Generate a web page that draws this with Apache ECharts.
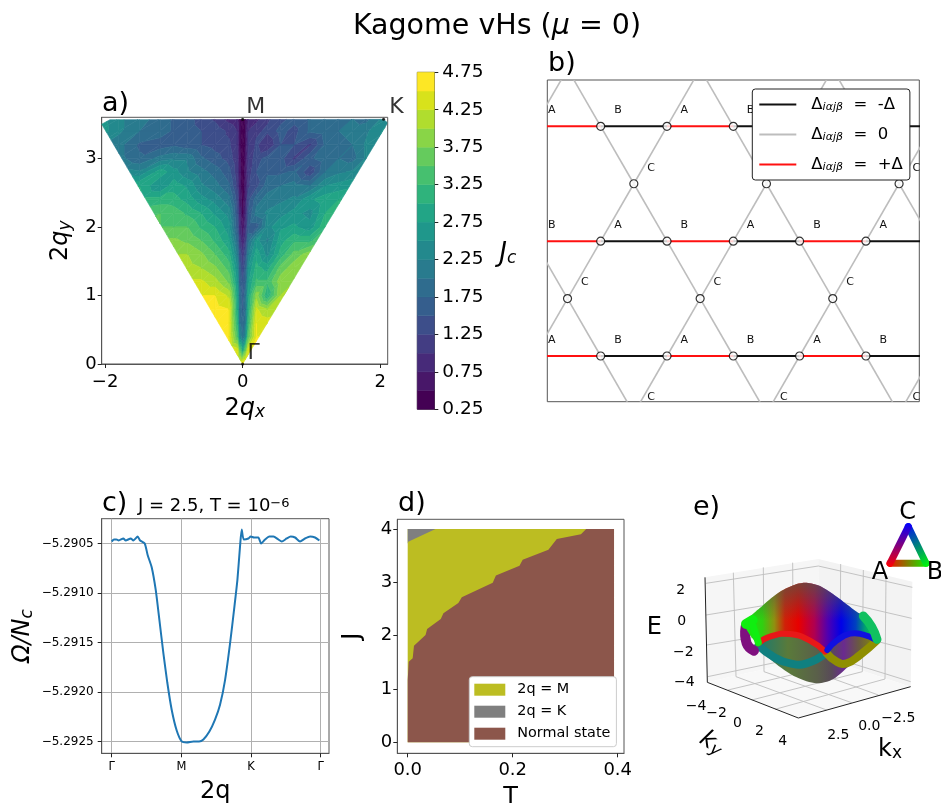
<!DOCTYPE html>
<html><head><meta charset="utf-8">
<script src="https://cdn.jsdelivr.net/npm/echarts@6/dist/echarts.min.js"></script>
<style>html,body{margin:0;padding:0;background:#fff}#c{width:941px;height:803px;filter:blur(0.45px)}</style>
</head><body><div id="c"></div>
<script>
const FONT = 'DejaVu Sans';
/* ---------- a) J_c map ---------- */
const jLevels = [0.25,0.5,0.75,1,1.25,1.5,1.75,2,2.25,2.5,2.75,3,3.25,3.5,3.75,4,4.25,4.5,4.75];
const jTicks = [0.25,0.75,1.25,1.75,2.25,2.75,3.25,3.75,4.25,4.75];
const qx = [-2.1,-1.8,-1.5,-1.2,-1,-.8,-.6,-.4,-.2,-.08,-.04,0,.04,.08,.2,.36,.55,.75,.98,1.2,1.4,1.6,1.8,2.1];
const qy = [0,.2,.4,.6,.8,1,1.2,1.4,1.6,1.8,2,2.2,2.4,2.6,2.8,3,3.2,3.4,3.58];
const jc = [
[4.6,4.6,4.6,4.6,4.6,4.6,4.6,4.6,4.6,4.6,4.6,4.6,4.6,4.6,4.6,4.6,4.6,4.6,4.6,4.6,4.6,4.6,4.6,4.6],
[4.6,4.6,4.6,4.6,4.6,4.6,4.6,4.6,4.6,4.4,3.6,3.0,3.6,4.4,4.6,4.6,4.6,4.6,4.6,4.6,4.6,4.6,4.6,4.6],
[4.6,4.6,4.6,4.6,4.6,4.6,4.6,4.6,4.5,3.5,2.3,2.0,2.3,3.5,4.5,4.5,4.5,4.5,4.5,4.5,4.5,4.5,4.5,4.5],
[4.6,4.6,4.6,4.6,4.6,4.6,4.6,4.6,4.5,3.2,2.0,1.8,2.0,3.2,4.5,4.4,4.3,4.3,4.3,4.3,4.3,4.3,4.3,4.3],
[4.6,4.6,4.6,4.6,4.6,4.6,4.6,4.6,4.5,3.0,1.9,1.7,1.9,3.0,4.3,4.0,4.1,4.1,4.1,4.1,4.1,4.1,4.1,4.1],
[4.5,4.5,4.5,4.5,4.5,4.5,4.5,4.5,4.2,2.9,1.9,1.6,1.9,2.9,3.9,3.0,4.0,4.0,4.0,4.0,4.0,4.0,4.0,4.0],
[4.3,4.3,4.3,4.3,4.3,4.3,4.3,4.1,3.7,2.7,1.7,1.5,1.7,2.7,3.3,3.3,3.9,4.0,4.0,4.0,4.0,4.0,4.0,4.0],
[4.1,4.1,4.1,4.1,4.1,4.1,4.0,3.8,3.4,2.5,1.6,1.3,1.6,2.5,3.1,2.9,3.6,3.9,3.9,3.9,3.9,3.9,3.9,3.9],
[4.0,4.0,4.0,4.0,4.0,4.0,3.8,3.5,3.1,2.2,1.4,1.1,1.4,2.2,2.9,2.4,3.1,3.6,3.9,3.9,3.9,3.9,3.9,3.9],
[3.8,3.8,3.8,3.8,3.8,3.7,3.5,3.2,2.8,1.9,1.1,.8,1.1,1.9,2.6,2.2,2.9,3.2,3.2,3.5,3.5,3.5,3.5,3.5],
[3.5,3.5,3.5,3.5,3.5,3.5,3.2,3.0,2.6,1.6,.9,.6,.9,1.6,1.6,2.4,2.7,2.8,2.6,3.2,3.2,3.2,3.2,3.2],
[3.4,3.4,3.4,3.5,3.4,3.2,3.0,2.7,2.4,1.5,.8,.45,.8,1.5,2.1,2.3,2.4,2.6,2.4,3.0,3.1,3.1,3.1,3.1],
[3.1,3.1,3.1,3.1,3.1,2.9,2.6,2.4,2.1,1.4,.7,.35,.7,1.4,1.9,2.1,2.2,2.3,2.7,2.9,3.0,3.0,3.0,3.0],
[3.0,3.0,3.0,2.5,2.9,2.7,2.3,2.1,1.8,1.2,.6,.3,.6,1.2,1.4,1.9,2.0,2.1,2.0,2.5,2.6,2.7,2.7,2.7],
[2.4,2.4,2.3,2.9,2.6,2.3,2.1,1.9,1.6,1.1,.6,.3,.6,1.1,1.5,1.7,1.7,1.8,1.3,2.0,2.2,2.3,2.5,2.5],
[2.1,2.1,1.8,2.1,2.2,2.2,1.8,1.6,1.4,1.05,.55,.27,.55,1.05,1.4,1.6,1.6,1.2,1.7,1.9,2.0,1.9,2.3,2.4],
[2.3,2.1,1.7,1.6,1.7,1.6,1.5,1.4,1.3,1.0,.5,.27,.5,1.0,1.3,1.0,1.5,1.5,1.2,1.8,1.9,2.0,2.3,2.5],
[2.7,2.3,2.0,1.9,1.7,1.6,1.5,1.4,1.2,1.0,.5,.27,.5,1.0,1.2,1.3,1.6,1.4,1.8,1.9,2.0,2.1,2.2,2.6],
[2.6,2.3,2.1,1.9,1.7,1.6,1.4,1.2,.9,.8,.5,.27,.5,.8,.9,1.2,1.4,1.6,1.8,1.9,1.9,2.0,1.9,2.4]
];
const wedge = [[0,0],[2.11,3.52],[2.05,3.57],[-1.93,3.565],[-2.05,3.5]];
const bzPoints = [[0,3.57,'M'],[2.05,3.57,'K'],[0,0,'Γ']];
/* ---------- b) lattice ---------- */
const abRows = [0,1.732,3.464];
const abColumns = [-1,0,1,2,3,4,5];
const cSites = [[.5,-.866],[2.5,-.866],[4.5,-.866],[-.5,.866],[1.5,.866],[3.5,.866],[5.5,.866],[.5,2.598],[2.5,2.598],[4.5,2.598],[-.5,4.33],[1.5,4.33],[3.5,4.33],[5.5,4.33]];
const rowLetters = [['A','B'],['B','A'],['A','B']];
const bondNames = ['Δiαjβ = -Δ','Δiαjβ = 0','Δiαjβ = +Δ'];
const bondColors = ['#111111','#bdbdbd','#ff1010'];
/* ---------- c) free energy ---------- */
const pathTicks = [0,1,2,3];
const pathLabels = ['Γ','M','K','Γ'];
const omegaTicks = [-5.2925,-5.292,-5.2915,-5.291,-5.2905];
const q2 = [0,.033,.067,.1,.167,.201,.273,.311,.373,.407,.474,.517,.574,.632,.684,.742,.799,.861,.933,1.005,1.077,1.172,1.254,1.316,1.402,1.483,1.555,1.627,1.699,1.761,1.804,1.842,1.866,1.895,1.962,1.995,2.043,2.105,2.144,2.201,2.263,2.321,2.392,2.44,2.512,2.569,2.632,2.703,2.775,2.847,2.919,2.981];
const omega = [-5.29048,-5.29046,-5.29046,-5.29047,-5.29045,-5.29047,-5.29045,-5.29047,-5.29043,-5.29047,-5.2905,-5.29062,-5.29074,-5.29097,-5.29127,-5.29161,-5.29191,-5.29218,-5.29239,-5.2925,-5.29251,-5.2925,-5.2925,-5.29248,-5.2924,-5.29228,-5.29213,-5.29188,-5.29151,-5.29114,-5.29087,-5.29053,-5.29036,-5.29046,-5.29045,-5.29043,-5.29044,-5.29044,-5.2905,-5.29046,-5.29043,-5.29043,-5.29046,-5.29048,-5.29045,-5.29043,-5.29044,-5.29048,-5.29045,-5.29043,-5.29044,-5.29047];
/* ---------- d) phase diagram ---------- */
const phaseNames = ['2q = M','2q = K','Normal state'];
const phaseColors = ['#bcbd22','#7f7f7f','#8c564b'];
const normalT = [0,0,.002,.0095,.012,.034,.037,.063,.068,.0965,.103,.162,.168,.213,.219,.268,.284,.33,.34,.393,.393];
const normalJ = [0,1.169,1.51,1.575,1.81,2.01,2.125,2.31,2.42,2.61,2.72,2.99,3.125,3.31,3.42,3.61,3.81,3.9,4,4,0];
const chargeT = [0,.393,.393,0];
const chargeJ = [0,0,4,4];
const kPhaseT = [0,.053,.001,0];
const kPhaseJ = [4,4,3.76,3.72];
/* ---------- e) band structure, in the scene plane of the 3D view ---------- */
const paneLeft = [[232,607],[225,292],[565,237],[568,530]];
const paneRight = [[568,530],[565,237],[847,305],[842,620]];
const paneFloor = [[232,607],[568,530],[842,620],[505,714]];
const sceneGrid = [
 [[310,278],[318,590]],[[400,262],[402,575]],[[488,248],[490,553]],
 [[632,252],[630,550]],[[700,270],[697,575]],[[768,287],[765,597]],
 [[228,310],[565,258]],[[228,405],[565,350]],[[230,495],[567,440]],[[233,590],[568,520]],
 [[565,258],[847,322]],[[565,350],[845,415]],[[567,440],[843,510]],[[568,520],[842,605]],
 [[318,590],[590,690]],[[402,575],[665,668]],[[490,553],[745,645]],
 [[630,550],[294,630]],[[697,575],[365,660]],[[765,597],[435,688]]
];
const sceneEdges = [[[225,292],[232,607]],[[232,607],[505,714]],[[505,714],[842,620]]];
const bowlOutline = [[385,495],[430,545],[500,592],[560,610],[610,597],[660,555],[740,490],[700,465],[640,465],[590,515],[540,480],[480,463],[420,472]];
const bowlStops = [[0,'#1a7a70'],[.25,'#5a7a3a'],[.5,'#5a5f4a'],[.62,'#584a58'],[.72,'#6a2a90'],[.85,'#6a5a40'],[1,'#8a9000']];
const domeOutline = [[345,432],[400,375],[450,335],[500,312],[530,308],[570,318],[620,350],[680,395],[720,420],[745,480],[700,462],[640,465],[590,515],[540,482],[480,463],[420,472],[385,492]];
const domeStops = [[0,'#10f010'],[.13,'#30d010'],[.22,'#909010'],[.3,'#d02008'],[.4,'#e80000'],[.52,'#b00050'],[.62,'#5000b0'],[.72,'#0000e8'],[.83,'#0040c0'],[.9,'#00a070'],[1,'#10e030']];
const ribbons = [
 {pts:[[385,497],[430,530],[480,550],[530,550],[590,518]],color:'#108080',w:8},
 {pts:[[590,520],[620,545],[650,550],[690,525],[740,482]],color:'#8f8f00',w:8},
 {pts:[[347,440],[350,490],[372,512]],color:'#7f107f',w:10},
 {pts:[[385,490],[420,470],[480,462],[540,482],[585,515]],color:'#e81818',w:6},
 {pts:[[592,510],[620,482],[660,461],[700,464],[738,480]],color:'#1010e0',w:6},
 {pts:[[348,432],[368,420]],color:'#10ee10',w:10},
 {pts:[[366,428],[385,488]],color:'#10ee10',w:7},
 {pts:[[700,408],[725,440],[741,478]],color:'#10c060',w:9}
];
const insetA = [780,250], insetB = [888,250], insetC = [835,140];
const sceneLabels = [
 {t:'2',x:152,y:332,s:14},{t:'0',x:155,y:425,s:14},{t:'−2',x:160,y:518,s:14},{t:'−4',x:163,y:607,s:14},
 {t:'−4',x:198,y:678,s:14},{t:'−2',x:260,y:700,s:14},{t:'0',x:322,y:730,s:14},{t:'2',x:388,y:755,s:14},{t:'4',x:458,y:785,s:14},
 {t:'2.5',x:625,y:765,s:14},{t:'0.0',x:718,y:740,s:14},{t:'−2.5',x:805,y:715,s:14},
 {t:'E',x:73,y:443,s:24},{t:'C',x:833,y:98,s:24},{t:'A',x:750,y:278,s:24},{t:'B',x:915,y:278,s:24}
];

/* ---------- helpers ---------- */
const viridisStops = ['#440154','#481567','#482677','#453781','#404788','#39568C','#33638D','#2D708E','#287D8E','#238A8D','#1F968B','#20A387','#29AF7F','#3CBB75','#55C667','#73D055','#95D840','#B8DE29','#DCE319','#FDE725'];
function hex(c){return [1,3,5].map(i=>parseInt(c.substr(i,2),16));}
function viridis(t){const f=t*19,i=Math.min(18,Math.floor(f)),a=hex(viridisStops[i]),b=hex(viridisStops[i+1]),u=f-i;
 return 'rgb('+a.map((v,k)=>Math.round(v+(b[k]-v)*u)).join(',')+')';}
const bandColors = jLevels.slice(0,-1).map((_,k)=>viridis(k/(jLevels.length-2)));
function clip(poly,f){const out=[];for(let i=0;i<poly.length;i++){const p=poly[i],q=poly[(i+1)%poly.length],a=f(p),b=f(q);
 if(a>=0)out.push(p);
 if((a>=0)!==(b>=0)){const u=a/(a-b);out.push([p[0]+(q[0]-p[0])*u,p[1]+(q[1]-p[1])*u,p[2]+(q[2]-p[2])*u]);}}
 return out;}
const wedgeFns = wedge.map((p,i)=>{const q=wedge[(i+1)%wedge.length];
 const s=Math.sign((q[0]-p[0])*(2-p[1])-(q[1]-p[1])*(0-p[0]));
 return v=>s*((q[0]-p[0])*(v[1]-p[1])-(q[1]-p[1])*(v[0]-p[0]));});
const contourPolys=[];
for(let r=0;r<qy.length-1;r++)for(let c=0;c<qx.length-1;c++){
 const A=[qx[c],qy[r],jc[r][c]],B=[qx[c+1],qy[r],jc[r][c+1]],C=[qx[c+1],qy[r+1],jc[r+1][c+1]],D=[qx[c],qy[r+1],jc[r+1][c]];
 [[A,B,C],[A,C,D]].forEach(tri=>{
  let w=tri;for(const f of wedgeFns){w=clip(w,f);if(!w.length)return;}
  for(let k=0;k<jLevels.length-1;k++){
   let b=clip(w,v=>v[2]-jLevels[k]);if(b.length>2)b=clip(b,v=>jLevels[k+1]-v[2]);
   if(b.length>2)contourPolys.push({k,pts:b.map(v=>[v[0],v[1]])});
  }});
}
function LG(stops,x2,y2){return new echarts.graphic.LinearGradient(0,0,x2,y2,stops.map(s=>({offset:s[0],color:s[1]})));}
function polygonItem(api,pts,style,smooth){return {type:'polygon',shape:{points:pts.map(p=>api.coord(p)),smooth:smooth||0},style};}
function lineItem(api,pts,style,smooth){return {type:'polyline',shape:{points:pts.map(p=>api.coord(p)),smooth:smooth||0},style:Object.assign({fill:null},style)};}

/* ---------- layout ---------- */
const boxA={left:101.7,top:117.3,width:286,height:246.7}, boxBar={left:417.3,top:72.3,width:17,height:337},
      boxB={left:547.3,top:80,width:372,height:321.7}, boxC={left:101.7,top:518.7,width:227.3,height:234.6},
      boxD={left:397.3,top:519.3,width:226.7,height:234}, boxE={left:630,top:480,width:311,height:320};
const spine='#555';
const gridOf=b=>Object.assign({show:true,borderColor:spine,borderWidth:1,backgroundColor:'#fff',containLabel:false,outerBoundsMode:'none'},b);
function axis(o){return Object.assign({type:'value',scale:true,
 axisLine:{show:true,onZero:false,lineStyle:{color:spine,width:1}},
 axisTick:{show:true,length:4,lineStyle:{color:'#222',width:1},customValues:o.ticks},
 axisLabel:{color:'#000',fontSize:o.fs||18,margin:o.margin||5,customValues:o.ticks,formatter:o.fmt,hideOverlap:false,showMinLabel:true,showMaxLabel:true,padding:o.pad||0},
 splitLine:{show:false}},o.extra||{},{gridIndex:o.g,min:o.min,max:o.max,position:o.position});}
const minus=s=>String(s).replace('-','−');
const math={n:{fontFamily:FONT,fontSize:24,color:'#000'},i:{fontFamily:FONT,fontSize:24,fontStyle:'italic',color:'#000'},s:{fontFamily:FONT,fontSize:17,fontStyle:'italic',color:'#000',verticalAlign:'bottom',padding:[8,0,0,0]}};
const plain=s=>({fontSize:s,fontWeight:'normal',color:'#000',fontFamily:FONT});

const panelTitles=[
 {text:'{a|Kagome vHs (}{b|μ}{a| = 0)}',left:497,top:12,padding:0,textAlign:'center',textStyle:{rich:{a:plain(28.5),b:Object.assign(plain(28.5),{fontStyle:'italic'})}}},
 {text:'a)',left:102,top:90,padding:0,textStyle:plain(27)},
 {text:'b)',left:548,top:50,padding:0,textStyle:plain(27)},
 {text:'c)',left:102,top:490,padding:0,textStyle:plain(27)},
 {text:'{a|J = 2.5, T = 10}{b|−6}',left:138,top:497,padding:0,textStyle:{rich:{a:plain(18),b:Object.assign(plain(13),{verticalAlign:'top'})}}},
 {text:'d)',left:398,top:490,padding:0,textStyle:plain(27)},
 {text:'e)',left:693,top:494,padding:0,textStyle:plain(27)}
];

const option={
 animation:false,
 textStyle:{fontFamily:FONT},
 title:panelTitles,
 legend:[
  {data:bondNames,left:752.3,top:89,icon:'rect',itemWidth:37,itemHeight:2,itemGap:13,orient:'vertical',selectedMode:false,
   padding:[7,7,7,7],backgroundColor:'#fff',borderColor:'#222',borderWidth:1,borderRadius:3,z:20,
   formatter:n=>'{g|}{d|Δ}{s|iαjβ}{d|  =  '+n.split('= ')[1]+'}',
   textStyle:{rich:{g:{width:10},d:{fontSize:16.5,color:'#000',fontFamily:FONT,height:22},s:{fontSize:11,fontStyle:'italic',color:'#000',fontFamily:FONT,verticalAlign:'bottom',height:16}}}},
  {data:phaseNames,left:469.3,top:676.7,icon:'rect',itemWidth:31,itemHeight:12,itemGap:8,orient:'vertical',selectedMode:false,
   padding:[6,6,6,5],backgroundColor:'#fff',borderColor:'#ccc',borderWidth:1,borderRadius:3,z:20,
   formatter:n=>'{g|}{t|'+n+'}',
   textStyle:{rich:{g:{width:7},t:{fontSize:14.4,color:'#000',fontFamily:FONT,height:16}}}}
 ],
 grid:[gridOf(boxA),gridOf(boxBar),gridOf(boxB),gridOf(boxC),gridOf(boxD),Object.assign({show:false,outerBoundsMode:'none'},boxE)],
 xAxis:[
  axis({g:0,min:-2.05,max:2.11,ticks:[-2,0,2],fmt:minus,margin:9,extra:{name:'{n|2}{i|q}{s|x}',nameLocation:'middle',nameGap:32,nameTextStyle:{rich:math}}}),
  {type:'value',gridIndex:1,min:0,max:1,show:false},
  {type:'value',gridIndex:2,min:-.805,max:4.805,show:false},
  axis({g:3,min:-.1435,max:3.119,ticks:pathTicks,fs:11.5,margin:8,fmt:v=>pathLabels[Math.round(v)],extra:{splitLine:{show:true,lineStyle:{color:'#b0b0b0',width:1}},name:'2q',nameLocation:'middle',nameGap:26,nameTextStyle:{fontSize:24,color:'#000'}}}),
  axis({g:4,min:-.0198,max:.412,ticks:[0,.2,.4],fmt:v=>v.toFixed(1),margin:8,extra:{name:'T',nameLocation:'middle',nameGap:32,nameTextStyle:{fontSize:24,color:'#000'}}}),
  {type:'value',gridIndex:5,min:0,max:933,show:false}
 ],
 yAxis:[
  axis({g:0,min:0,max:3.6,ticks:[0,1,2,3],pad:[3,0,0,0],fmt:v=>String(v),extra:{name:'{n|2}{i|q}{s|y}',nameLocation:'middle',nameGap:28,nameRotate:90,nameTextStyle:{rich:math}}}),
  axis({g:1,min:.25,max:4.75,ticks:jTicks,pad:[3,0,0,0],position:'right',fmt:v=>v.toFixed(2),fs:18.5,margin:8,extra:{name:'{j|J}{s|c}',nameLocation:'middle',nameGap:65,nameRotate:0,nameTextStyle:{padding:[26,0,0,0],rich:Object.assign({j:{fontFamily:FONT,fontSize:26,fontStyle:'italic',color:'#000'}},math)}}}),
  {type:'value',gridIndex:2,min:-.689,max:4.163,show:false},
  axis({g:3,min:-5.29262,max:-5.29025,ticks:omegaTicks,pad:[2,0,0,0],fs:12,margin:8,fmt:v=>minus(v.toFixed(4)),extra:{splitLine:{show:true,lineStyle:{color:'#b0b0b0',width:1}},name:'{i|Ω/N}{s|c}',nameLocation:'middle',nameGap:66,nameRotate:90,nameTextStyle:{rich:math}}}),
  axis({g:4,min:-.206,max:4.18,ticks:[0,1,2,3,4],pad:[3,0,0,0],fmt:v=>String(v),extra:{name:'J',nameLocation:'middle',nameGap:33,nameRotate:90,nameTextStyle:{fontSize:24,color:'#000'}}}),
  {type:'value',gridIndex:5,min:0,max:960,inverse:true,show:false}
 ],
 series:[]
};
const S=option.series;
/* a) */
S.push({type:'custom',name:'Jc',xAxisIndex:0,yAxisIndex:0,coordinateSystem:'cartesian2d',silent:true,progressive:0,
 data:contourPolys.map(p=>[p.pts[0][0],p.pts[0][1],p.k]),
 renderItem:(params,api)=>{const p=contourPolys[params.dataIndex],col=bandColors[p.k];
  return polygonItem(api,p.pts,{fill:col,stroke:col,lineWidth:.6});}});
S.push({type:'scatter',name:'BZ points',xAxisIndex:0,yAxisIndex:0,symbolSize:3,itemStyle:{color:'#000'},clip:false,silent:true,
 data:bzPoints.map(p=>({value:[p[0],p[1]],label:{show:true,formatter:p[2],position:'inside',fontSize:22,color:'#000',
   offset:p[2]==='Γ'?[11,-11]:p[2]==='M'?[13,-12]:[13,-12]}}))});
/* colorbar */
S.push({type:'custom',name:'Jc scale',xAxisIndex:1,yAxisIndex:1,silent:true,
 data:jLevels.slice(0,-1).map((v,k)=>[k,v]),
 renderItem:(params,api)=>{const k=params.dataIndex,col=bandColors[k],a=api.coord([0,jLevels[k]]),b=api.coord([1,jLevels[k+1]]);
  return {type:'rect',shape:{x:a[0],y:b[1],width:b[0]-a[0],height:a[1]-b[1]},style:{fill:col,stroke:col,lineWidth:.5}};}});
/* b) */
const bonds=[[],[],[]];
abRows.forEach(y=>{for(let i=0;i<abColumns.length-1;i++){const x=abColumns[i];bonds[((x%2)+2)%2===0?0:2].push([x,y,x+1,y]);}});
cSites.forEach(s=>{[[-.5,-.866],[.5,-.866],[-.5,.866],[.5,.866]].forEach(d=>bonds[1].push([s[0],s[1],s[0]+d[0],s[1]+d[1]]));});
[1,0,2].forEach(t=>{S.push({type:'custom',name:bondNames[t],xAxisIndex:2,yAxisIndex:2,clip:true,silent:true,itemStyle:{color:bondColors[t]},z:2,
 data:bonds[t],
 renderItem:(params,api)=>{const a=api.coord([api.value(0),api.value(1)]),b=api.coord([api.value(2),api.value(3)]);
  return {type:'line',shape:{x1:a[0],y1:a[1],x2:b[0],y2:b[1]},style:{stroke:bondColors[t],lineWidth:t===1?1.6:2}};}});});
const abSites=[];abRows.forEach((y,r)=>abColumns.forEach(x=>abSites.push([x,y,rowLetters[r][((x%2)+2)%2===0?1:0]])));
const allSites=abSites.concat(cSites.map(c=>[c[0],c[1],'C']));
S.push({type:'scatter',name:'sites',xAxisIndex:2,yAxisIndex:2,symbolSize:8,silent:true,z:3,itemStyle:{color:'#fff',borderColor:'#000',borderWidth:1.2},
 data:allSites.map(s=>[s[0],s[1]])});
S.push({type:'custom',name:'site labels',xAxisIndex:2,yAxisIndex:2,clip:true,silent:true,z:3,
 data:allSites,
 renderItem:(params,api)=>{const s=allSites[params.dataIndex],p=api.coord([s[0],s[1]]);
  return {type:'text',x:p[0]+17.3,y:p[1]-16,style:{text:s[2],fill:'#111',fontSize:11,fontFamily:FONT,align:'center',verticalAlign:'middle'}};}});
/* c) */
S.push({type:'line',name:'Omega',xAxisIndex:3,yAxisIndex:3,showSymbol:false,silent:true,smooth:.2,lineStyle:{color:'#1f77b4',width:2},
 data:q2.map((q,i)=>[q,omega[i]])});
/* d) */
function zip(a,b){return a.map((v,i)=>[v,b[i]]);}
[[0,chargeT,chargeJ],[2,normalT,normalJ],[1,kPhaseT,kPhaseJ]].forEach(([i,T,J])=>{
 const pts=zip(T,J);
 S.push({type:'custom',name:phaseNames[i],xAxisIndex:4,yAxisIndex:4,silent:true,itemStyle:{color:phaseColors[i]},data:pts,
  renderItem:(params,api)=>params.dataIndex===0?polygonItem(api,pts,{fill:phaseColors[i]}):null});
});
/* e) */
const sceneItems=[
 api=>polygonItem(api,paneLeft,{fill:'#f6f6f6'}),
 api=>polygonItem(api,paneRight,{fill:'#f3f3f3'}),
 api=>polygonItem(api,paneFloor,{fill:'#f8f8f8'}),
 ...sceneGrid.map(g=>api=>lineItem(api,g,{stroke:'#bdbdbd',lineWidth:.9})),
 ...sceneEdges.map(g=>api=>lineItem(api,g,{stroke:'#222',lineWidth:1})),
 api=>polygonItem(api,bowlOutline,{fill:LG(bowlStops,1,0)},.3),
 ...ribbons.slice(0,3).map(r=>api=>lineItem(api,r.pts,{stroke:r.color,lineWidth:r.w,lineCap:'round',lineJoin:'round'},.5)),
 api=>polygonItem(api,domeOutline,{fill:LG(domeStops,1,0)},.25),
 api=>polygonItem(api,domeOutline,{fill:LG([[0,'rgba(85,85,70,.75)'],[.55,'rgba(85,85,70,0)'],[1,'rgba(85,85,70,0)']],0,1)},.25),
 ...ribbons.slice(3).map(r=>api=>lineItem(api,r.pts,{stroke:r.color,lineWidth:r.w,lineCap:'round',lineJoin:'round'},.5)),
 api=>lineItem(api,[insetA,insetB],{stroke:LG([[0,'#ff0000'],[1,'#00ff00']],1,0),lineWidth:7,lineCap:'round'}),
 api=>lineItem(api,[insetB,insetC],{stroke:LG([[0,'#0000ff'],[1,'#00ff00']],1,1),lineWidth:7,lineCap:'round'}),
 api=>lineItem(api,[insetC,insetA],{stroke:LG([[0,'#0000ff'],[1,'#ff0000']],0,1),lineWidth:7,lineCap:'round'})
];
S.push({type:'custom',name:'band structure',xAxisIndex:5,yAxisIndex:5,silent:true,clip:false,
 data:sceneItems.map((_,i)=>[0,i]),
 renderItem:(params,api)=>sceneItems[params.dataIndex](api)});
S.push({type:'custom',name:'3D labels',xAxisIndex:5,yAxisIndex:5,silent:true,clip:false,z:5,
 data:sceneLabels.map(l=>[l.x,l.y]),
 renderItem:(params,api)=>{const l=sceneLabels[params.dataIndex],p=api.coord([l.x,l.y]);
  return {type:'text',x:p[0],y:p[1],style:{text:l.t,fill:'#000',fontSize:l.s,fontFamily:FONT,align:'center',verticalAlign:'middle'}};}});
S.push({type:'custom',name:'3D axis names',xAxisIndex:5,yAxisIndex:5,silent:true,clip:false,z:5,
 data:[[245,790],[765,808]],
 renderItem:(params,api)=>{const p=api.coord([api.value(0),api.value(1)]);
  return params.dataIndex===0
   ?{type:'text',x:p[0],y:p[1],rotation:-.6,style:{text:'{i|k}{s|y}',rich:math,align:'center',verticalAlign:'middle'}}
   :{type:'text',x:p[0]+5,y:p[1],style:{text:'{a|k}{b|x}',rich:{a:{fontSize:24,color:'#000',fontFamily:FONT},b:{fontSize:17,color:'#000',fontFamily:FONT,verticalAlign:'bottom',padding:[8,0,0,0]}},align:'center',verticalAlign:'middle'}};}});

echarts.init(document.getElementById('c'),null,{renderer:'canvas'}).setOption(option);
</script></body></html>
